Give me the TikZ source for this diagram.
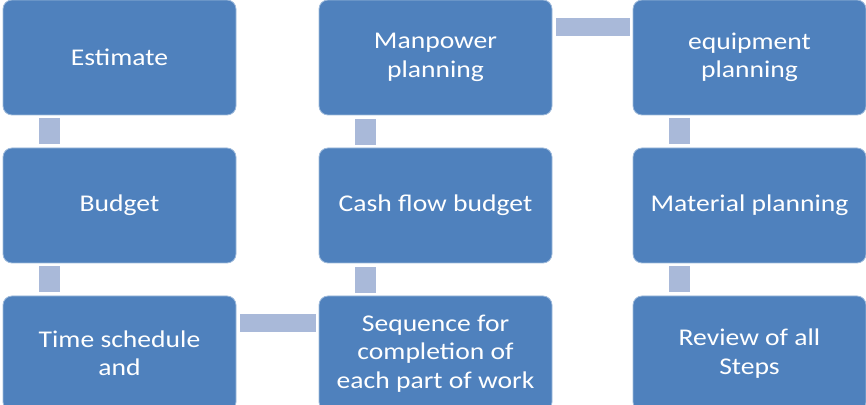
\documentclass[tikz,border=0pt]{standalone}
\usepackage{fontspec}
\newfontfamily\boxfont[FakeStretch=1.15]{Carlito}
\usepackage{tikz}
\usetikzlibrary{positioning,calc}
\usepackage{xcolor}
\definecolor{boxblue}{HTML}{4F81BD}
\definecolor{linkc}{HTML}{A9B9D9}
\tikzset{
  stepbox/.style={rounded corners=9pt, draw=boxblue!55!white, line width=0.8pt,
              fill=boxblue, align=center, text=white, inner sep=0pt,
              minimum width=233pt, minimum height=115pt,
              font=\boxfont\fontsize{24}{28.5}\selectfont},
  vlink/.style={draw=linkc, line width=21pt, shorten <=3pt, shorten >=4pt},
  hlink/.style={draw=linkc, line width=18pt, shorten <=4pt, shorten >=3pt},
}

\begin{document}
\begin{tikzpicture}[x=1pt,y=1pt]
\useasboundingbox (0,0) rectangle (866,404);
% column one
\node[stepbox] (est) at (119.5,346.5) {Estimate};
\node[stepbox] (bud) at (119.5,198.5) {Budget};
\node[stepbox] (time) at (119.5,50.5) {Time schedule\\and};
% column two
\node[stepbox] (man) at (435.5,346.5) {Manpower\\planning};
\node[stepbox] (cash) at (435.5,198.5) {Cash flow budget};
\node[stepbox] (seq) at (435.5,50.5) {Sequence for\\completion of\\each part of work};
% column three
\node[stepbox] (equip) at (749.5,346.5) {equipment\\planning};
\node[stepbox] (mat) at (749.5,198.5) {Material planning};
\node[stepbox] (rev) at (749.5,50.5) {Review of all\\Steps};
% links
\draw[vlink] ([xshift=46.5pt]est.south west) -- ([xshift=46.5pt]bud.north west);
\draw[vlink] ([xshift=46.5pt]bud.south west) -- ([xshift=46.5pt]time.north west);
\draw[vlink] ([xshift=46.5pt]seq.north west) -- ([xshift=46.5pt]cash.south west);
\draw[vlink] ([xshift=46.5pt]cash.north west) -- ([xshift=46.5pt]man.south west);
\draw[vlink] ([xshift=46.5pt]equip.south west) -- ([xshift=46.5pt]mat.north west);
\draw[vlink] ([xshift=46.5pt]mat.south west) -- ([xshift=46.5pt]rev.north west);
\draw[hlink] ([yshift=-27pt]time.north east) -- ([yshift=-27pt]seq.north west);
\draw[hlink] ([yshift=-27pt]man.north east) -- ([yshift=-27pt]equip.north west);
\end{tikzpicture}
\end{document}
